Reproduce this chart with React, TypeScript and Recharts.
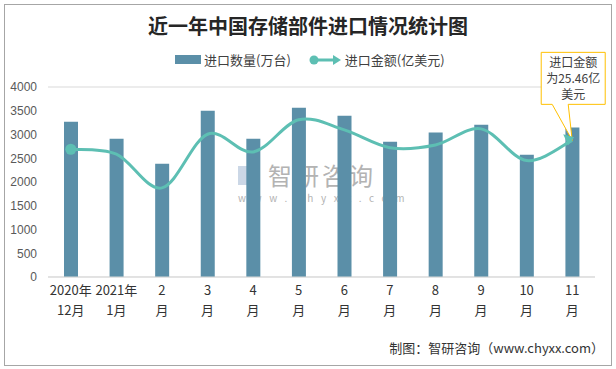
import React from "react";
import { ComposedChart, Bar, Line, XAxis, YAxis, CartesianGrid } from "recharts";

const categories = ["2020-12", "2021-01", "2021-02", "2021-03", "2021-04", "2021-05", "2021-06", "2021-07", "2021-08", "2021-09", "2021-10", "2021-11"];
const tickLine1 = ["2020年", "2021年", "2", "3", "4", "5", "6", "7", "8", "9", "10", "11"];
const tickLine2 = ["12月", "1月", "月", "月", "月", "月", "月", "月", "月", "月", "月", "月"];
const quantity = [3270, 2910, 2385, 3500, 2910, 3565, 3395, 2850, 3040, 3205, 2575, 3145];
const amount = [23.8, 22.9, 16.6, 26.6, 23.3, 29.3, 27.4, 24.1, 24.6, 27.6, 21.7, 25.46];
const yTicks = [0, 500, 1000, 1500, 2000, 2500, 3000, 3500, 4000];

const data = categories.map((c, i) => ({ c, quantity: quantity[i], amount: amount[i] }));

const BAR = "#5B8FA8";
const LINE = "#5DBFB3";
const CJK = '"Noto Sans CJK SC", "Noto Sans", sans-serif';

// Excel-like smoothed line (Catmull-Rom through the points)
const smoothCurve = (context: any) => {
  let pts: number[][] = [];
  return {
    areaStart() {},
    areaEnd() {},
    lineStart() { pts = []; },
    point(x: number, y: number) { pts.push([+x, +y]); },
    lineEnd() {
      const n = pts.length;
      if (!n) return;
      context.moveTo(pts[0][0], pts[0][1]);
      const t = 1 / 6;
      for (let i = 0; i < n - 1; i++) {
        const p0 = pts[i - 1] || pts[i];
        const p1 = pts[i];
        const p2 = pts[i + 1];
        const p3 = pts[i + 2] || p2;
        context.bezierCurveTo(
          p1[0] + (p2[0] - p0[0]) * t, p1[1] + (p2[1] - p0[1]) * t,
          p2[0] - (p3[0] - p1[0]) * t, p2[1] - (p3[1] - p1[1]) * t,
          p2[0], p2[1]
        );
      }
    },
  };
};

const XTick = (props: any) => {
  const { x, y, payload } = props;
  const i = categories.indexOf(payload.value);
  return (
    <g>
      <text x={x} y={y + 18} textAnchor="middle" fontSize={13} fill="#333" fontFamily={CJK}>{tickLine1[i]}</text>
      <text x={x} y={y + 38} textAnchor="middle" fontSize={13} fill="#333" fontFamily={CJK}>{tickLine2[i]}</text>
    </g>
  );
};

const LineDot = (props: any) => {
  const { cx, cy, index } = props;
  if (index === 0) return <circle key={index} cx={cx} cy={cy} r={5.5} fill={LINE} />;
  if (index === amount.length - 1) {
    const bx0 = cx - 31, bx1 = cx + 33, by0 = cy - 88, by1 = cy - 36;
    const path = `M${bx0},${by0} L${bx1},${by0} L${bx1},${by1} L${cx - 4},${by1} L${cx},${cy} L${cx - 20},${by1} L${bx0},${by1} Z`;
    return (
      <g key={index}>
        <path d={path} fill="#fff" stroke="#FFC000" strokeWidth={1} />
        <text x={cx + 1} y={by0 + 15} textAnchor="middle" fontSize={12} fill="#404040" fontFamily={CJK}>进口金额</text>
        <text x={cx + 1} y={by0 + 31} textAnchor="middle" fontSize={12} fill="#404040" fontFamily={CJK}>为{amount[index]}亿</text>
        <text x={cx + 1} y={by0 + 47} textAnchor="middle" fontSize={12} fill="#404040" fontFamily={CJK}>美元</text>
        <polygon points={`${cx + 2},${cy - 3} ${cx - 9},${cy - 6} ${cx - 4},${cy + 5}`} fill={LINE} />
      </g>
    );
  }
  return <g key={index} />;
};

export default function App() {
  return (
    <div style={{ position: "absolute", left: 0, top: 0, width: 616, height: 369, background: "#fff", fontFamily: CJK }}>
      <div style={{ position: "absolute", left: 4, top: 4, width: 606, height: 360, border: "1px solid #A6A6A6" }} />
      <div style={{ position: "absolute", left: 0, width: 616, top: 11, textAlign: "center", fontSize: 20, fontWeight: 700, color: "#262626" }}>
        近一年中国存储部件进口情况统计图
      </div>
      <div style={{ position: "absolute", top: 50, left: 175, display: "flex", alignItems: "center", fontSize: 13, color: "#404040" }}>
        <span style={{ display: "inline-block", width: 26, height: 9, background: BAR, marginRight: 3 }} />
        <span>进口数量(万台)</span>
        <svg width={32} height={12} style={{ marginLeft: 18, marginRight: 4 }}>
          <line x1={4} y1={6} x2={26} y2={6} stroke={LINE} strokeWidth={3} />
          <circle cx={5} cy={6} r={4.5} fill={LINE} />
          <polygon points="32,6 24,1 24,11" fill={LINE} />
        </svg>
        <span>进口金额(亿美元)</span>
      </div>
      <div style={{ position: "absolute", left: 238, top: 166, width: 22, height: 19, background: "#A9BDD6", opacity: 0.6 }} />
      <div style={{ position: "absolute", left: 268, top: 164, color: "#B3B3B3", fontSize: 24, lineHeight: "22px", letterSpacing: 3 }}>
        智研咨询
      </div>
      <div style={{ position: "absolute", left: 238, top: 192, color: "#B3B3B3", fontSize: 10, lineHeight: "11px", letterSpacing: 7.6 }}>
        www.chyxx.com
      </div>
      <ComposedChart width={616} height={369} data={data} margin={{ top: 87, right: 21, bottom: 62, left: 0 }} style={{ position: "absolute", left: 0, top: 0 }}>
        <CartesianGrid vertical={false} stroke="#D9D9D9" />
        <XAxis dataKey="c" tick={XTick} tickLine={false} axisLine={{ stroke: "#D9D9D9" }} interval={0} height={30} tickSize={0} tickMargin={0} />
        <YAxis yAxisId="left" width={48} domain={[0, 4000]} ticks={yTicks} tickLine={false} axisLine={false} tickSize={0} tickMargin={11} tick={{ fontSize: 12, fill: "#595959", fontFamily: '"Liberation Sans", sans-serif' }} />
        <YAxis yAxisId="right" orientation="right" hide domain={[0, 35.4]} />
        <Bar yAxisId="left" dataKey="quantity" fill={BAR} barSize={14} isAnimationActive={false} />
        <Line yAxisId="right" dataKey="amount" type={smoothCurve as any} stroke={LINE} strokeWidth={3} dot={LineDot} activeDot={false} isAnimationActive={false} />
      </ComposedChart>
      <div style={{ position: "absolute", right: 12, top: 338, fontSize: 13, color: "#333" }}>
        制图：智研咨询（www.chyxx.com）
      </div>
    </div>
  );
}
